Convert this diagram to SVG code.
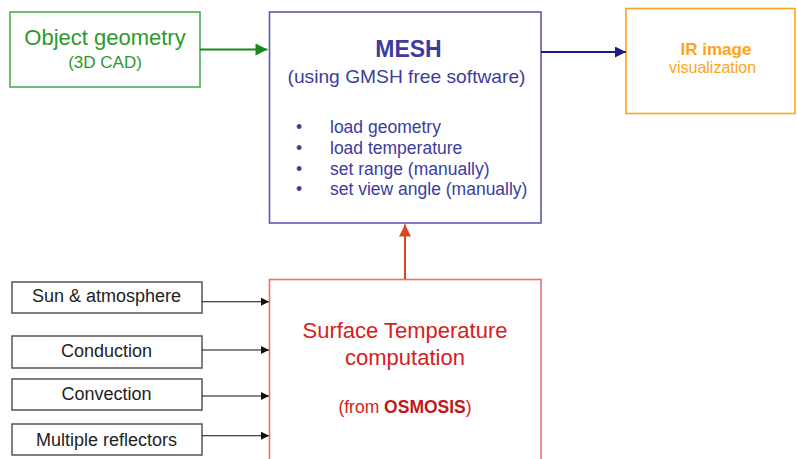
<svg xmlns="http://www.w3.org/2000/svg" width="797" height="459" viewBox="0 0 797 459">
<defs>
<style>
text{font-family:"Liberation Sans",Arial,sans-serif;}
.box{fill:none;stroke-width:1.6;}
.c{text-anchor:middle;}
.blk{fill:none;stroke:#555;stroke-width:1.5;}
.lbl{font-size:18px;fill:#222;text-anchor:middle;}
.mesh{fill:#3c3ca0;}
</style>
<marker id="ag" viewBox="0 0 10 10" refX="10" refY="5" markerWidth="17" markerHeight="12" markerUnits="userSpaceOnUse" orient="auto"><path d="M0,0L10,5L0,10z" fill="#1a8a1a"/></marker>
<marker id="an" viewBox="0 0 10 10" refX="10" refY="5" markerWidth="16" markerHeight="11" markerUnits="userSpaceOnUse" orient="auto"><path d="M0,0L10,5L0,10z" fill="#1c1c88"/></marker>
<marker id="ar" viewBox="0 0 10 10" refX="10" refY="5" markerWidth="16" markerHeight="12" markerUnits="userSpaceOnUse" orient="auto"><path d="M0,0L10,5L0,10z" fill="#d84820"/></marker>
<marker id="ak" viewBox="0 0 10 10" refX="10" refY="5" markerWidth="12" markerHeight="8" markerUnits="userSpaceOnUse" orient="auto"><path d="M0,0L10,5L0,10z" fill="#111"/></marker>
</defs>
<rect width="797" height="459" fill="#ffffff"/>

<g id="object-geometry">
<rect class="box" x="10" y="12" width="190" height="75" stroke="#4db04d"/>
<text class="c" x="105" y="45" font-size="22" fill="#2a9a2a">Object geometry</text>
<text class="c" x="105" y="68" font-size="17" fill="#2a9a2a">(3D CAD)</text>
</g>

<g id="mesh">
<rect class="box" x="269.5" y="12" width="271.5" height="211" stroke="#5a5ab4"/>
<text class="c mesh" x="408.5" y="57" font-size="23" font-weight="bold">MESH</text>
<text class="c mesh" x="406.5" y="82.5" font-size="19" textLength="238" lengthAdjust="spacingAndGlyphs">(using GMSH free software)</text>
<g class="mesh" font-size="17.5">
<text x="296" y="133.3">•</text><text x="330" y="133.3">load geometry</text>
<text x="296" y="154">•</text><text x="330" y="154">load temperature</text>
<text x="296" y="174.7">•</text><text x="330" y="174.7">set range (manually)</text>
<text x="296" y="195.3">•</text><text x="330" y="195.3">set view angle (manually)</text>
</g>
</g>

<g id="ir-image">
<rect class="box" x="626" y="8.5" width="169" height="105" stroke="#ffa31a"/>
<text class="c" x="716" y="54.5" font-size="17" font-weight="bold" fill="#ffa31a">IR image</text>
<text class="c" x="712.5" y="73" font-size="16" fill="#ffa31a">visualization</text>
</g>

<g id="surface-temperature">
<rect class="box" x="269.5" y="279.5" width="271.5" height="200" stroke="#e87070"/>
<text class="c" x="405" y="338.3" font-size="22" fill="#d82020">Surface Temperature</text>
<text class="c" x="405" y="365" font-size="22" fill="#d82020">computation</text>
<text class="c" x="405" y="413.3" font-size="17.5" fill="#d82020">(from <tspan font-weight="bold" fill="#c01818">OSMOSIS</tspan>)</text>
</g>

<g id="sun-atmosphere">
<rect class="blk" x="12" y="282" width="190" height="31"/>
<text class="lbl" x="106.5" y="302.3">Sun &amp; atmosphere</text>
</g>
<g id="conduction">
<rect class="blk" x="12" y="336" width="190" height="32"/>
<text class="lbl" x="106.5" y="357.3">Conduction</text>
</g>
<g id="convection">
<rect class="blk" x="12" y="379" width="190" height="31"/>
<text class="lbl" x="106.5" y="400">Convection</text>
</g>
<g id="multiple-reflectors">
<rect class="blk" x="12" y="424" width="190" height="31"/>
<text class="lbl" x="106.5" y="445.7">Multiple reflectors</text>
</g>

<g id="connectors" fill="none">
<line x1="200" y1="49.5" x2="267.5" y2="49.5" stroke="#1a8a1a" stroke-width="2" marker-end="url(#ag)"/>
<line x1="541" y1="52" x2="626" y2="52" stroke="#1c1c88" stroke-width="2" marker-end="url(#an)"/>
<line x1="405" y1="279" x2="405" y2="224.5" stroke="#d84820" stroke-width="2" marker-end="url(#ar)"/>
<g stroke="#111" stroke-width="1.1">
<line x1="202" y1="301.7" x2="269" y2="301.7" marker-end="url(#ak)"/>
<line x1="202" y1="350" x2="269" y2="350" marker-end="url(#ak)"/>
<line x1="202" y1="396" x2="269" y2="396" marker-end="url(#ak)"/>
<line x1="202" y1="435.7" x2="269" y2="435.7" marker-end="url(#ak)"/>
</g>
</g>
</svg>
